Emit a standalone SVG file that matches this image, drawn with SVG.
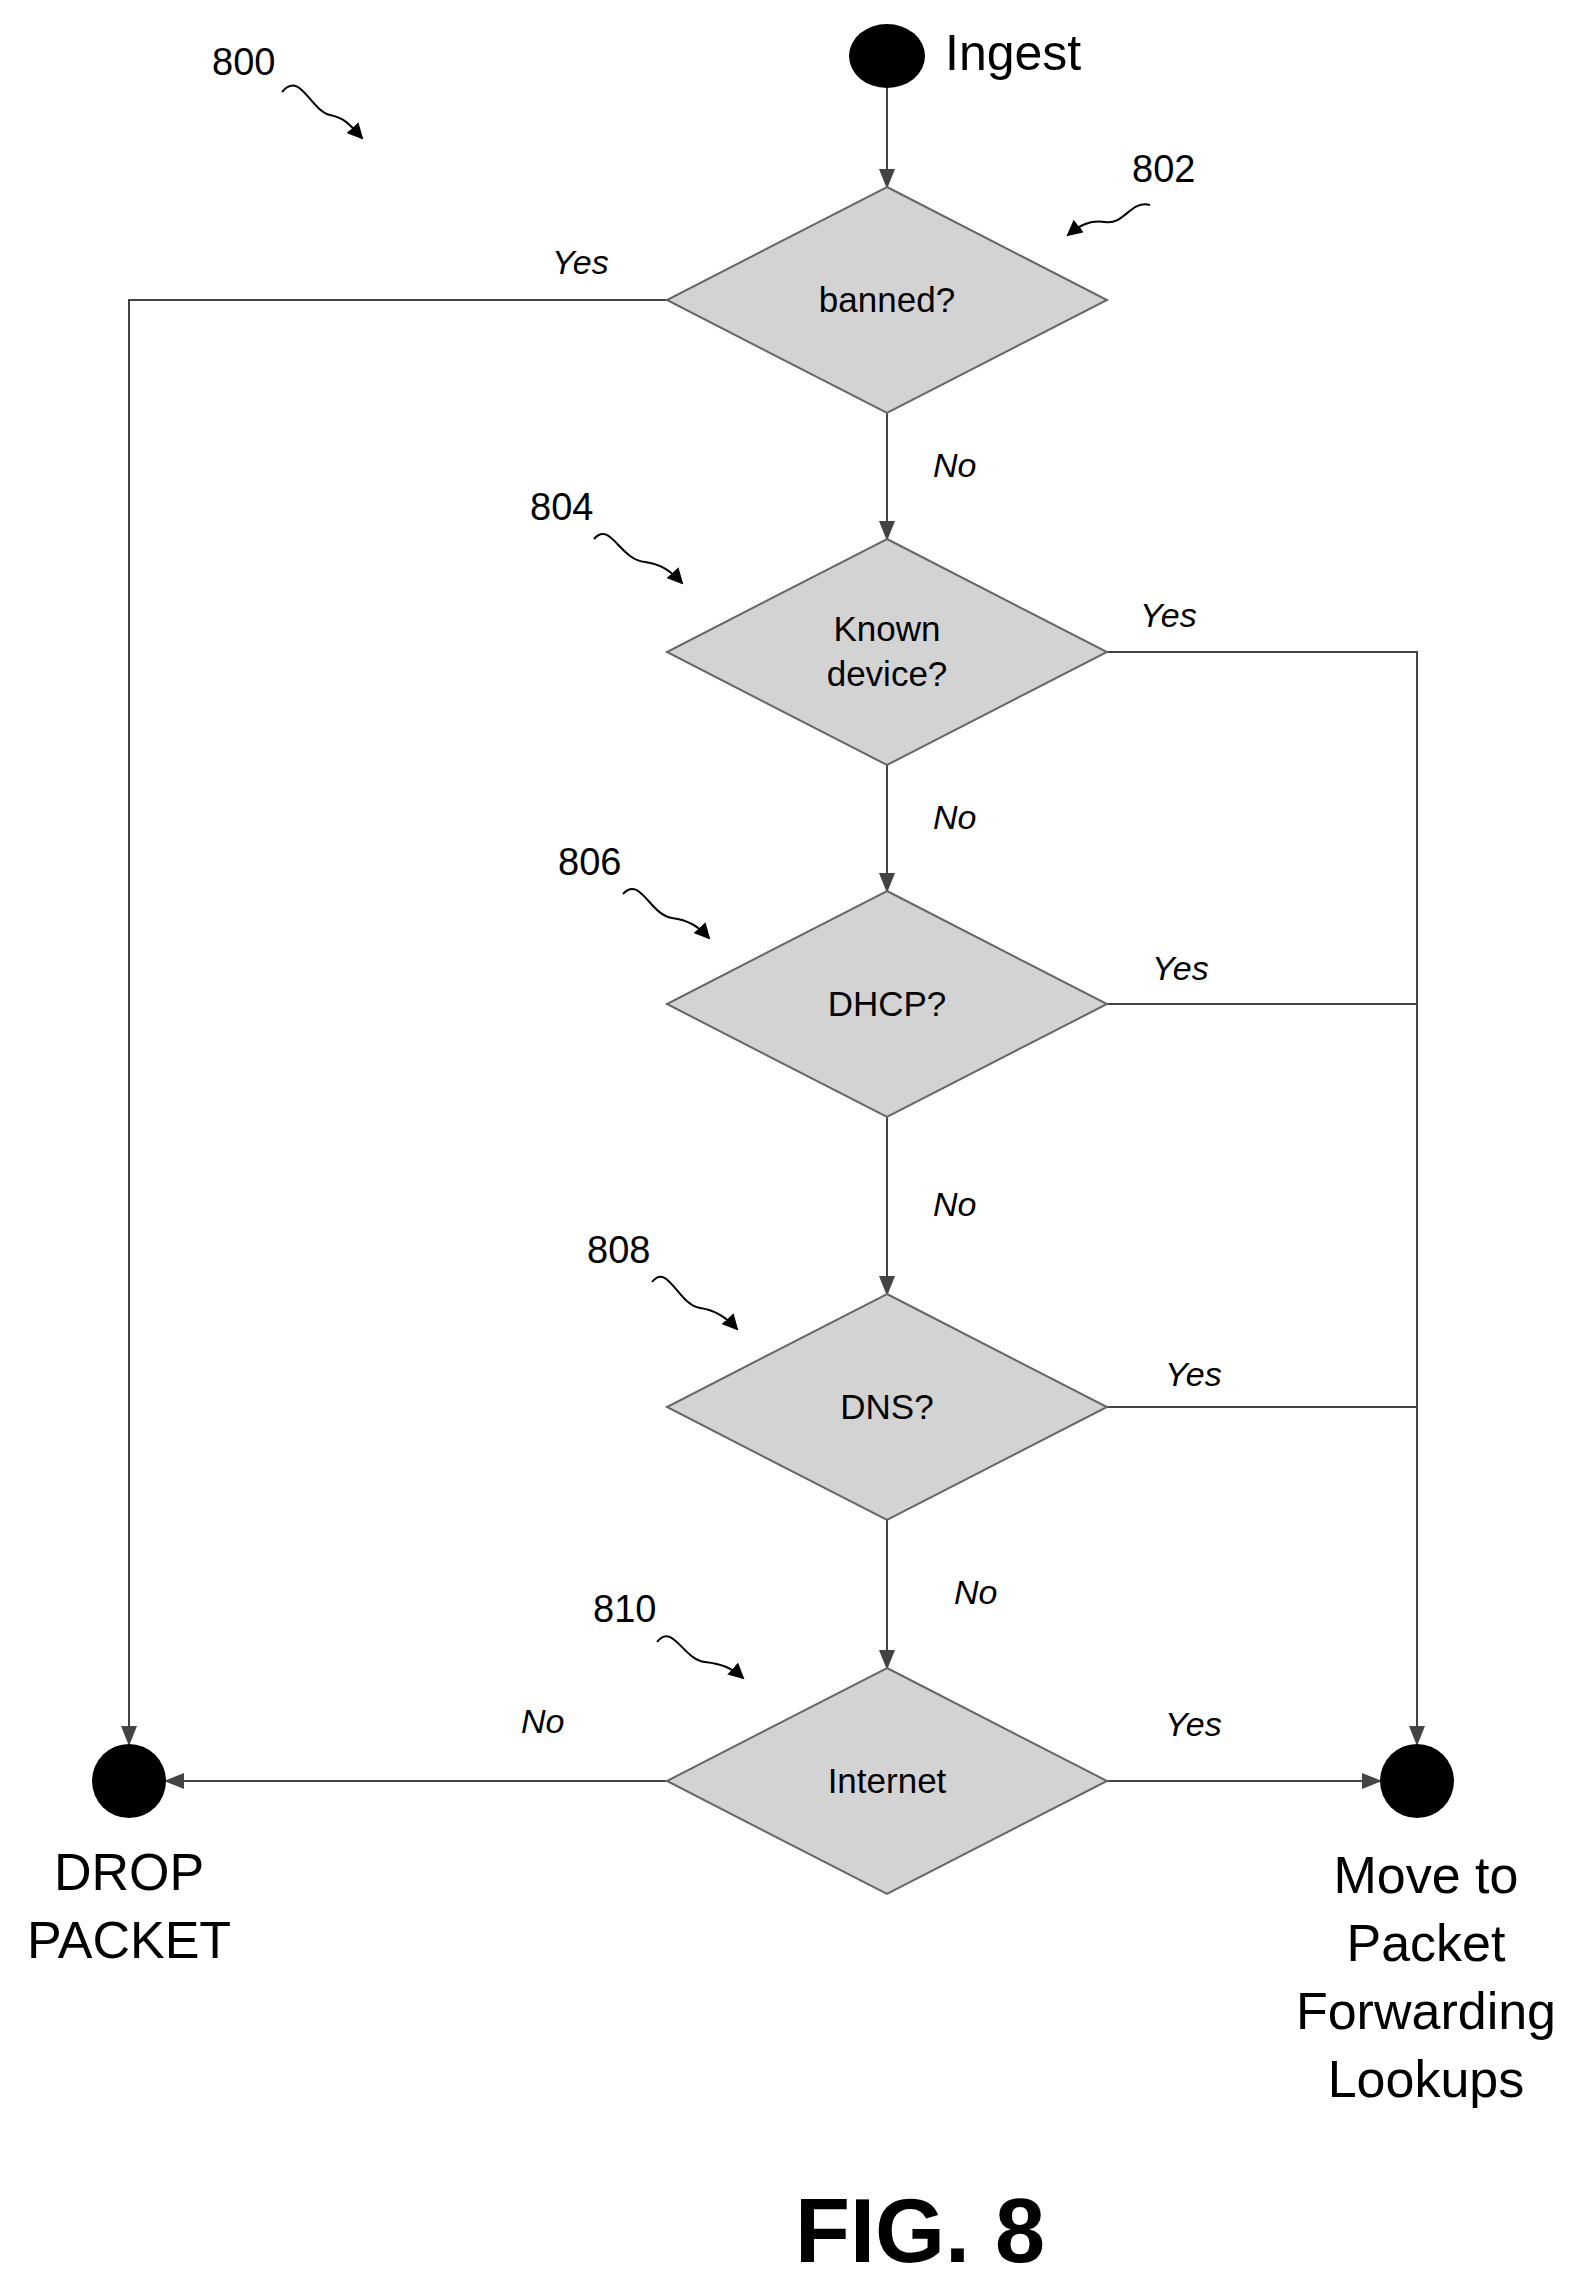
<svg xmlns="http://www.w3.org/2000/svg" width="1583" height="2290" viewBox="0 0 1583 2290">
<style>
.d{fill:#d3d3d3;stroke:#666;stroke-width:2}
.t{font-family:"Liberation Sans",Arial,sans-serif;fill:#000}
.q{font-size:35px;text-anchor:middle}
.l{font-size:34px;font-style:italic}
.r{font-size:38px;font-family:"Liberation Sans",Arial,sans-serif}
.c{fill:none;stroke:#444;stroke-width:2}
.s{fill:none;stroke:#000;stroke-width:2}
</style>
<defs>
<marker id="a" markerWidth="10" markerHeight="10" refX="9" refY="5" orient="auto" markerUnits="strokeWidth"><path d="M0,1 L10,5 L0,9 z" fill="#444"/></marker>
<marker id="b" markerWidth="8" markerHeight="8" refX="7" refY="4" orient="auto" markerUnits="strokeWidth"><path d="M0,0 L8,4 L0,8 z" fill="#000"/></marker>
</defs>
<rect width="1583" height="2290" fill="#fff"/>
<g id="connectors">
<path class="c" d="M887,88 V187" marker-end="url(#a)"/>
<path class="c" d="M887,413 V539" marker-end="url(#a)"/>
<path class="c" d="M887,765 V891" marker-end="url(#a)"/>
<path class="c" d="M887,1117 V1294" marker-end="url(#a)"/>
<path class="c" d="M887,1520 V1668" marker-end="url(#a)"/>
<path class="c" d="M667,300 H129 V1744" marker-end="url(#a)"/>
<path class="c" d="M1107,652 H1417 V1744" marker-end="url(#a)"/>
<path class="c" d="M1107,1004 H1417"/>
<path class="c" d="M1107,1407 H1417"/>
<path class="c" d="M667,1781 H166" marker-end="url(#a)"/>
<path class="c" d="M1107,1781 H1380" marker-end="url(#a)"/>
<g class="t l">
<text x="552" y="274">Yes</text>
<text x="933" y="477">No</text>
<text x="1140" y="627">Yes</text>
<text x="933" y="829">No</text>
<text x="1152" y="980">Yes</text>
<text x="933" y="1216">No</text>
<text x="1165" y="1386">Yes</text>
<text x="954" y="1604">No</text>
<text x="521" y="1733">No</text>
<text x="1165" y="1736">Yes</text>
</g>
</g>
<g id="ingest"><ellipse cx="887" cy="56" rx="38" ry="32"/><text class="t" x="945" y="70" font-size="50">Ingest</text></g>
<g id="n802"><polygon class="d" points="887,187 1107,300 887,413 667,300"/><text class="t q" x="887" y="312">banned?</text></g>
<g id="n804"><polygon class="d" points="887,539 1107,652 887,765 667,652"/><text class="t q" x="887" y="641">Known</text><text class="t q" x="887" y="686">device?</text></g>
<g id="n806"><polygon class="d" points="887,891 1107,1004 887,1117 667,1004"/><text class="t q" x="887" y="1016">DHCP?</text></g>
<g id="n808"><polygon class="d" points="887,1294 1107,1407 887,1520 667,1407"/><text class="t q" x="887" y="1419">DNS?</text></g>
<g id="n810"><polygon class="d" points="887,1668 1107,1781 887,1894 667,1781"/><text class="t q" x="887" y="1793">Internet</text></g>
<g id="drop"><circle cx="129" cy="1781" r="37"/><text class="t" x="129" y="1890" font-size="52" text-anchor="middle">DROP</text><text class="t" x="129" y="1958" font-size="52" text-anchor="middle">PACKET</text></g>
<g id="move"><circle cx="1417" cy="1781" r="37"/>
<g class="t" font-size="52" text-anchor="middle"><text x="1426" y="1893">Move to</text><text x="1426" y="1961">Packet</text><text x="1426" y="2029">Forwarding</text><text x="1426" y="2097">Lookups</text></g></g>
<g id="refs">
<text class="r" x="212" y="75">800</text>
<path class="s" d="M282,92 C300,70 310,110 330,115 C345,118 350,125 362,138" marker-end="url(#b)"/>
<text class="r" x="1132" y="182">802</text>
<path class="s" d="M1150,205 C1130,200 1125,225 1105,222 C1090,220 1080,225 1068,235" marker-end="url(#b)"/>
<text class="r" x="530" y="520">804</text>
<path class="s" d="M594,539 C610,520 620,560 645,562 C660,564 670,570 682,583" marker-end="url(#b)"/>
<text class="r" x="558" y="875">806</text>
<path class="s" d="M623,894 C640,875 650,915 672,918 C688,920 698,926 709,938" marker-end="url(#b)"/>
<text class="r" x="587" y="1263">808</text>
<path class="s" d="M652,1282 C668,1262 678,1305 700,1308 C716,1310 727,1318 737,1329" marker-end="url(#b)"/>
<text class="r" x="593" y="1622">810</text>
<path class="s" d="M657,1642 C673,1622 683,1660 705,1662 C722,1664 732,1668 743,1678" marker-end="url(#b)"/>
</g>
<text class="t" x="920" y="2262" font-size="90" font-weight="bold" text-anchor="middle">FIG. 8</text>
</svg>
